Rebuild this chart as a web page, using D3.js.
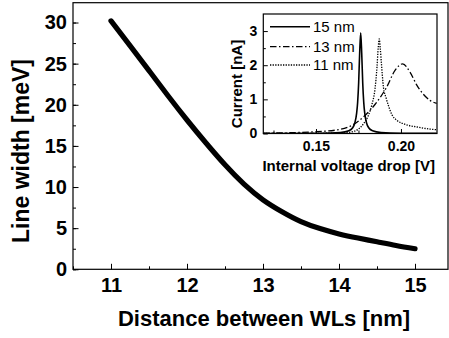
<!DOCTYPE html>
<html><head><meta charset="utf-8">
<script src="https://cdn.jsdelivr.net/npm/d3@7"></script>
<style>
html,body{margin:0;padding:0;background:#fff;}
svg{display:block;font-family:"Liberation Sans",Arial,sans-serif;}
.domain{display:none;}
</style></head>
<body>
<svg id="c" width="449" height="338"></svg>
<script>
// Main chart data
const mainX = [11.0, 11.25, 11.5, 11.75, 12.0, 12.25, 12.5, 12.75, 13.0, 13.25, 13.5, 13.75, 14.0, 14.25, 14.5, 14.75, 15.0];
const mainY = [30.2, 27.2, 24.15, 21.1, 18.15, 15.35, 12.7, 10.35, 8.45, 7.0, 5.8, 4.95, 4.3, 3.8, 3.35, 2.9, 2.5];
const mainXTicks = [11, 12, 13, 14, 15];
const mainYTicks = [0, 5, 10, 15, 20, 25, 30];

// Inset data
const x15 = [0.119, 0.1523, 0.1643, 0.1693, 0.1716, 0.1728, 0.1739, 0.1745, 0.1751, 0.1757, 0.1763, 0.1769, 0.1775, 0.1781, 0.1787, 0.1798, 0.181, 0.1833, 0.1883, 0.2003, 0.221];
const y15 = [0.0, 0.008, 0.03, 0.08, 0.17, 0.30, 0.59, 0.91, 1.48, 2.36, 2.95, 2.36, 1.48, 0.91, 0.59, 0.30, 0.17, 0.08, 0.03, 0.008, 0.003];
const x13 = [0.119, 0.1494, 0.1641, 0.1712, 0.1778, 0.1847, 0.1916, 0.1965, 0.2010, 0.2053, 0.2094, 0.2171, 0.221];
const y13 = [0.01, 0.05, 0.12, 0.24, 0.48, 0.85, 1.36, 1.85, 2.04, 1.8, 1.41, 0.97, 0.88];
const x11 = [0.119, 0.1641, 0.1712, 0.1747, 0.1782, 0.1806, 0.1829, 0.1847, 0.1859, 0.1866, 0.1872, 0.1878, 0.1885, 0.1897, 0.1912, 0.1926, 0.1947, 0.1975, 0.2024, 0.2094, 0.2171, 0.221];
const y11 = [0.0, 0.01, 0.05, 0.12, 0.3, 0.5, 0.85, 1.3, 1.95, 2.5, 2.77, 2.5, 2.05, 1.35, 1.05, 0.82, 0.55, 0.39, 0.27, 0.19, 0.13, 0.11];
const insetSeries = ["15 nm", "13 nm", "11 nm"];
const insetXTicks = [0.15, 0.20];
const insetYTicks = [0, 1, 2, 3];

const svg = d3.select("#c");
const FONT = '"Liberation Sans",Arial,sans-serif';

// ---- main chart ----
const L = 73, R = 448, T = 2.7, B = 269.3;
const x = d3.scaleLinear().domain([10.5, 15.434]).range([L, R]);
const y = d3.scaleLinear().domain([0, 32.41]).range([B, T]);

svg.append("rect").attr("x", L).attr("y", T).attr("width", R - L).attr("height", B - T)
  .attr("fill", "none").attr("stroke", "#000").attr("stroke-width", 1.2);

const gxMinor = svg.append("g").attr("transform", `translate(0,${B})`)
  .call(d3.axisBottom(x).tickValues(d3.range(10.5, 15.5, 0.5)).tickSize(-3).tickFormat(""));
const gyMinor = svg.append("g").attr("transform", `translate(${L},0)`)
  .call(d3.axisLeft(y).tickValues(d3.range(0, 32.5, 2.5)).tickSize(-3).tickFormat(""));

const gx = svg.append("g").attr("transform", `translate(0,${B})`)
  .call(d3.axisBottom(x).tickValues(mainXTicks).tickSize(-5.5).tickPadding(8).tickFormat(d3.format("d")));
const gy = svg.append("g").attr("transform", `translate(${L},0)`)
  .call(d3.axisLeft(y).tickValues(mainYTicks).tickSize(-5.5).tickPadding(6).tickFormat(d3.format("d")));
[gx, gy].forEach(g => g.selectAll("text").attr("fill", "#000").attr("font-size", 20)
  .attr("font-weight", "bold").attr("font-family", FONT));
[gx, gy, gxMinor, gyMinor].forEach(g => g.selectAll("line").attr("stroke", "#000").attr("stroke-width", 1));
gx.selectAll("text").attr("dy", "0.71em").attr("y", 9);

svg.append("text").attr("x", (111 + 415) / 2 + 1).attr("y", 326)
  .attr("text-anchor", "middle").attr("font-size", 22).attr("font-weight", "bold")
  .attr("font-family", FONT).text("Distance between WLs [nm]");
svg.append("text").attr("transform", "translate(29,151) rotate(-90)")
  .attr("text-anchor", "middle").attr("font-size", 23).attr("font-weight", "bold")
  .attr("font-family", FONT).text("Line width [meV]");

const mainData = mainX.map((d, i) => [d, mainY[i]]);
svg.append("path").datum(mainData)
  .attr("d", d3.line().x(d => x(d[0])).y(d => y(d[1])).curve(d3.curveNatural))
  .attr("fill", "none").attr("stroke", "#000").attr("stroke-width", 5.2).attr("stroke-linecap", "round");

// ---- inset ----
const iL = 263.3, iR = 437, iT = 14, iB = 133.5;
const ix = d3.scaleLinear().domain([0.119, 0.2212]).range([iL, iR]);
const iy = d3.scaleLinear().domain([0, 3.5]).range([iB, iT]);

svg.append("rect").attr("x", iL).attr("y", iT).attr("width", iR - iL).attr("height", iB - iT)
  .attr("fill", "#fff").attr("stroke", "#000").attr("stroke-width", 1.2);

svg.append("clipPath").attr("id", "ic").append("rect")
  .attr("x", iL).attr("y", iT).attr("width", iR - iL).attr("height", iB - iT);

const igxm = svg.append("g").attr("transform", `translate(0,${iB})`)
  .call(d3.axisBottom(ix).tickValues([0.125, 0.175]).tickSize(-3).tickFormat(""));
const igym = svg.append("g").attr("transform", `translate(${iL},0)`)
  .call(d3.axisLeft(iy).tickValues([0.5, 1.5, 2.5]).tickSize(-2.5).tickFormat(""));
const igx = svg.append("g").attr("transform", `translate(0,${iB})`)
  .call(d3.axisBottom(ix).tickValues(insetXTicks).tickSize(-4.5).tickPadding(6).tickFormat(d3.format(".2f")));
const igy = svg.append("g").attr("transform", `translate(${iL},0)`)
  .call(d3.axisLeft(iy).tickValues(insetYTicks).tickSize(-4.5).tickPadding(6).tickFormat(d3.format("d")));
[igx, igy].forEach(g => g.selectAll("text").attr("fill", "#000").attr("font-size", 14)
  .attr("font-weight", "bold").attr("font-family", FONT));
[igx, igy, igxm, igym].forEach(g => g.selectAll("line").attr("stroke", "#000").attr("stroke-width", 1));
igx.selectAll("text").attr("y", 8);

svg.append("text").attr("x", (iL + iR) / 2 - 1.5).attr("y", 170.5)
  .attr("text-anchor", "middle").attr("font-size", 15).attr("font-weight", "bold")
  .attr("font-family", FONT).text("Internal voltage drop [V]");
svg.append("text").attr("transform", "translate(242,84) rotate(-90)")
  .attr("text-anchor", "middle").attr("font-size", 15).attr("font-weight", "bold")
  .attr("font-family", FONT).text("Current [nA]");

const styles = [
  { xs: x15, ys: y15, dash: null, w: 1.6 },
  { xs: x13, ys: y13, dash: "6.5,2.5,1.5,2.5", w: 1.3 },
  { xs: x11, ys: y11, dash: "1.3,1.3", w: 1.3 }
];
const iline = d3.line().x(d => ix(d[0])).y(d => iy(d[1])).curve(d3.curveMonotoneX);
const gc = svg.append("g").attr("clip-path", "url(#ic)");
styles.forEach(s => {
  gc.append("path").datum(s.xs.map((d, i) => [d, s.ys[i]]))
    .attr("d", iline).attr("fill", "none").attr("stroke", "#000")
    .attr("stroke-width", s.w).attr("stroke-dasharray", s.dash);
});

const legY = [26.7, 46.7, 65];
insetSeries.forEach((name, i) => {
  svg.append("line").attr("x1", 270).attr("x2", 310).attr("y1", legY[i]).attr("y2", legY[i])
    .attr("stroke", "#000").attr("stroke-width", styles[i].w).attr("stroke-dasharray", styles[i].dash);
  svg.append("text").attr("x", 313).attr("y", legY[i]).attr("dy", "0.36em")
    .attr("font-size", 15).attr("font-family", FONT).text(name);
});
</script>
</body></html>
